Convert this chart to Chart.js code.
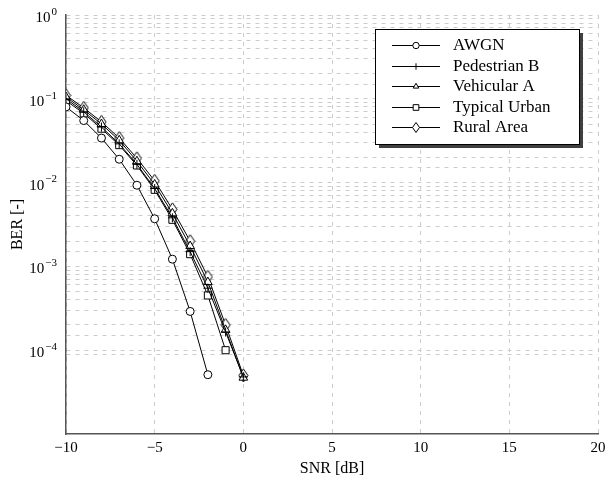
<!DOCTYPE html>
<html>
<head>
<meta charset="utf-8">
<script src="https://cdn.jsdelivr.net/npm/chart.js@4"></script>
<style>
  html, body { margin: 0; padding: 0; background: #fff; }
  #wrap { width: 605px; height: 482px; }
</style>
</head>
<body>
<div id="wrap"><canvas id="berChart" width="605" height="482"></canvas></div>
<script>
// SNR points in dB
const snr = [-10, -9, -8, -7, -6, -5, -4, -3, -2, -1, 0];

// BER per channel model
const awgn       = [0.080, 0.055, 0.034, 0.019, 0.0093, 0.0037, 0.00122, 0.00029, 0.000051];
const pedB       = [0.100, 0.070, 0.046, 0.029, 0.0165, 0.0085, 0.0038, 0.00150, 0.00055, 0.000165, 0.000048];
const vehA       = [0.105, 0.074, 0.050, 0.032, 0.0180, 0.0095, 0.0043, 0.00175, 0.00065, 0.000175, 0.000047];
const typUrban   = [0.095, 0.067, 0.044, 0.028, 0.0160, 0.0082, 0.0036, 0.00140, 0.00045, 0.000100];
const ruralArea  = [0.110, 0.078, 0.053, 0.034, 0.0195, 0.0105, 0.0048, 0.00200, 0.00075, 0.000200, 0.000050];

const seriesNames = ['AWGN', 'Pedestrian B', 'Vehicular A', 'Typical Urban', 'Rural Area'];

const xTicks = [-10, -5, 0, 5, 10, 15, 20];
const yDecades = [0, -1, -2, -3, -4];

const SERIF = '"Liberation Serif", "DejaVu Serif", serif';

// tall diamond marker (pgfplots style)
function diamondPath(g, cx, cy, hw, hh) {
  g.beginPath();
  g.moveTo(cx, cy - hh); g.lineTo(cx + hw, cy); g.lineTo(cx, cy + hh); g.lineTo(cx - hw, cy); g.closePath();
  g.fillStyle = '#fff'; g.fill();
  g.lineWidth = 1; g.strokeStyle = '#000'; g.stroke();
}
function diamondMarker() {
  const c = document.createElement('canvas');
  c.width = 11; c.height = 15;
  diamondPath(c.getContext('2d'), 5.5, 7.5, 4.5, 6.5);
  return c;
}
const diamond = diamondMarker();

const styles = ['circle', 'cross', 'triangle', 'rect', diamond];
const radii  = [4, 4.5, 5, 5, 5];

function toPoints(arr) {
  return arr.map((v, i) => ({ x: snr[i], y: v }));
}

const allData = [awgn, pedB, vehA, typUrban, ruralArea];

const datasets = allData.map((d, i) => ({
  label: seriesNames[i],
  data: toPoints(d),
  borderColor: '#000',
  borderWidth: 1,
  backgroundColor: '#fff',
  pointStyle: styles[i],
  pointRadius: radii[i],
  pointBackgroundColor: '#fff',
  pointBorderColor: '#000',
  pointBorderWidth: 1,
  tension: 0
}));

// ── custom y labels with superscript exponents + pgfplots-like legend ──
const decorations = {
  id: 'decorations',
  afterDraw(chart) {
    const ctx = chart.ctx;
    const y = chart.scales.y;
    ctx.save();
    ctx.fillStyle = '#000';
    ctx.textBaseline = 'middle';
    ctx.textAlign = 'right';
    yDecades.forEach(e => {
      const py = y.getPixelForValue(Math.pow(10, e));
      const exp = e < 0 ? '\u2212' + Math.abs(e) : String(e);
      ctx.font = '11px ' + SERIF;
      const ew = ctx.measureText(exp).width;
      const right = 57;
      ctx.fillText(exp, right, py - 3);
      ctx.font = '15px ' + SERIF;
      ctx.fillText('10', right - ew - 1, py + 3);
    });

    // legend
    const bx = 375, by = 29, bw = 204, bh = 115;
    ctx.fillStyle = '#404040';
    ctx.fillRect(bx + 4, by + 4, bw, bh);
    ctx.fillStyle = '#fff';
    ctx.fillRect(bx, by, bw, bh);
    ctx.strokeStyle = '#000';
    ctx.lineWidth = 1;
    ctx.strokeRect(bx + 0.5, by + 0.5, bw, bh);

    seriesNames.forEach((name, i) => {
      const ly = Math.round(by + 16 + i * 20.6);
      ctx.beginPath();
      ctx.moveTo(392, ly + 0.5);
      ctx.lineTo(440, ly + 0.5);
      ctx.strokeStyle = '#000';
      ctx.lineWidth = 1;
      ctx.stroke();
      if (i === 4) {
        diamondPath(ctx, 416, ly + 0.5, 3.5, 5);
      } else {
        ctx.fillStyle = '#fff';
        ctx.strokeStyle = '#000';
        Chart.helpers.drawPoint(ctx, {
          pointStyle: styles[i],
          radius: i === 3 ? 4 : 3.2,
          borderWidth: 1,
          rotation: 0
        }, 416, ly + 0.5);
      }
      ctx.fillStyle = '#000';
      ctx.font = '17px ' + SERIF;
      ctx.textAlign = 'left';
      ctx.fillText(name, 453, ly + 1);
    });
    ctx.restore();
  }
};

Chart.defaults.font.family = SERIF;
Chart.defaults.color = '#000';

const gridGray = '#cccccc';

new Chart(document.getElementById('berChart'), {
  type: 'line',
  data: { datasets },
  plugins: [decorations],
  options: {
    responsive: false,
    animation: false,
    layout: { padding: { top: 15, right: 7, left: 0, bottom: 0 } },
    plugins: { legend: { display: false }, tooltip: { enabled: false } },
    scales: {
      x: {
        type: 'linear',
        min: -10,
        max: 20,
        afterBuildTicks: s => { s.ticks = xTicks.map(v => ({ value: v })); },
        afterFit: s => { s.height = 48; s.paddingLeft = 0; s.paddingRight = 0; },
        ticks: {
          font: { size: 15 },
          padding: 5,
          maxRotation: 0,
          callback: v => v < 0 ? '\u2212' + Math.abs(v) : String(v)
        },
        grid: { color: gridGray, lineWidth: 1, drawTicks: false },
        border: { display: true, color: '#555', width: 1.5, dash: [4, 5] },
        title: { display: true, text: 'SNR [dB]', font: { size: 16 }, padding: { top: 2, bottom: 4 } }
      },
      y: {
        type: 'logarithmic',
        min: 1e-5,
        max: 1,
        afterFit: s => { s.width = 66; },
        ticks: { display: false },
        grid: {
          // no minor grid in the partial decade below 1e-4
          color: c => (c.tick && c.tick.value < 9e-5) ? 'rgba(0,0,0,0)' : gridGray,
          lineWidth: 1,
          drawTicks: false
        },
        border: { display: true, color: '#555', width: 1.5, dash: [4, 5] },
        title: { display: true, text: 'BER [-]', font: { size: 16 }, padding: { top: 8, bottom: 0 } }
      }
    }
  }
});
</script>
</body>
</html>
